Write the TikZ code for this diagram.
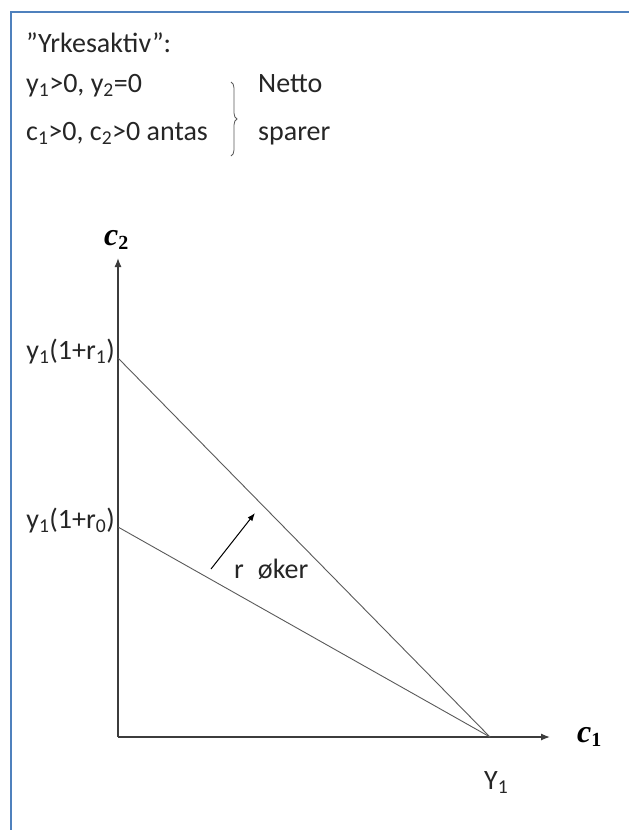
\documentclass[tikz,border=0pt]{standalone}
\usepackage{fontspec}
\setmainfont{Carlito}
\newfontfamily\axfont{Liberation Serif}
\usetikzlibrary{arrows.meta,decorations.pathreplacing}
\definecolor{frameblue}{RGB}{79,129,189}
\definecolor{axisgray}{RGB}{60,60,60}
\definecolor{linegray}{RGB}{90,90,90}
\newcommand{\axlab}[1]{{\axfont\bfseries\itshape c}\raisebox{-4pt}{\axfont\bfseries\fontsize{20}{22}\selectfont #1}}
\begin{document}
\begin{tikzpicture}[x=1pt,y=-1pt,
  txt/.style={font=\fontsize{28}{32}\selectfont, inner sep=0pt, text=black!85},
  axis/.style={draw=axisgray, line width=1.3pt, -{Latex[length=9pt,width=7pt]}},
  budget/.style={draw=linegray, line width=0.9pt},
  axlabel/.style={font=\fontsize{32}{34}\selectfont, inner sep=0pt}]
\useasboundingbox (0,0) rectangle (629,830);
\fill[white] (0,0) rectangle (629,830);
\draw[frameblue, line width=2pt] (629,12) -- (11,12) -- (11,830);
% header text
\node[txt, anchor=base west] (t0) at (26,52) {"Yrkesaktiv":};
\node[txt, anchor=base west] (t1) at (26,92) {y\textsubscript{1}>0, y\textsubscript{2}=0};
\node[txt, anchor=base west] (t2) at (26,140) {c\textsubscript{1}>0, c\textsubscript{2}>0 antas};
\coordinate (bt) at (231,82);
\coordinate (bb) at (231,156);
\draw[linegray, line width=0.8pt, decorate, decoration={brace, amplitude=6pt}] (bt) -- (bb);
\node[txt, anchor=base west] (n1) at (258,92) {Netto};
\node[txt, anchor=base west] (n2) at (258,140) {sparer};
% axes
\coordinate (O) at (118,737);
\coordinate (ytip) at (118,258);
\coordinate (xtip) at (550,737);
\draw[axis] (O) -- (ytip);
\draw[axis] (O) -- (xtip);
\node[axlabel, anchor=base west] (c2) at (104,245) {\axlab{2}};
\node[axlabel, anchor=base west] (c1) at (577,742) {\axlab{1}};
% budget lines
\coordinate (A1) at (118,358);
\coordinate (A0) at (118,527);
\coordinate (Y) at (490,737);
\draw[budget] (A1) -- (Y);
\draw[budget] (A0) -- (Y);
\node[txt, anchor=base east] (l1) at (115,359) {y\textsubscript{1}(1+r\textsubscript{1})};
\node[txt, anchor=base east] (l0) at (115,528) {y\textsubscript{1}(1+r\textsubscript{0})};
\node[txt, anchor=base west] (Ylab) at (484,789) {Y\textsubscript{1}};
% arrow
\coordinate (ra) at (211,569);
\coordinate (rb) at (255,513);
\draw[draw=black, line width=1pt, -{Latex[length=8pt,width=6pt]}] (ra) -- (rb);
\node[txt, anchor=base west] (rok) at (234,578) {r\enspace øker};
\end{tikzpicture}
\end{document}
